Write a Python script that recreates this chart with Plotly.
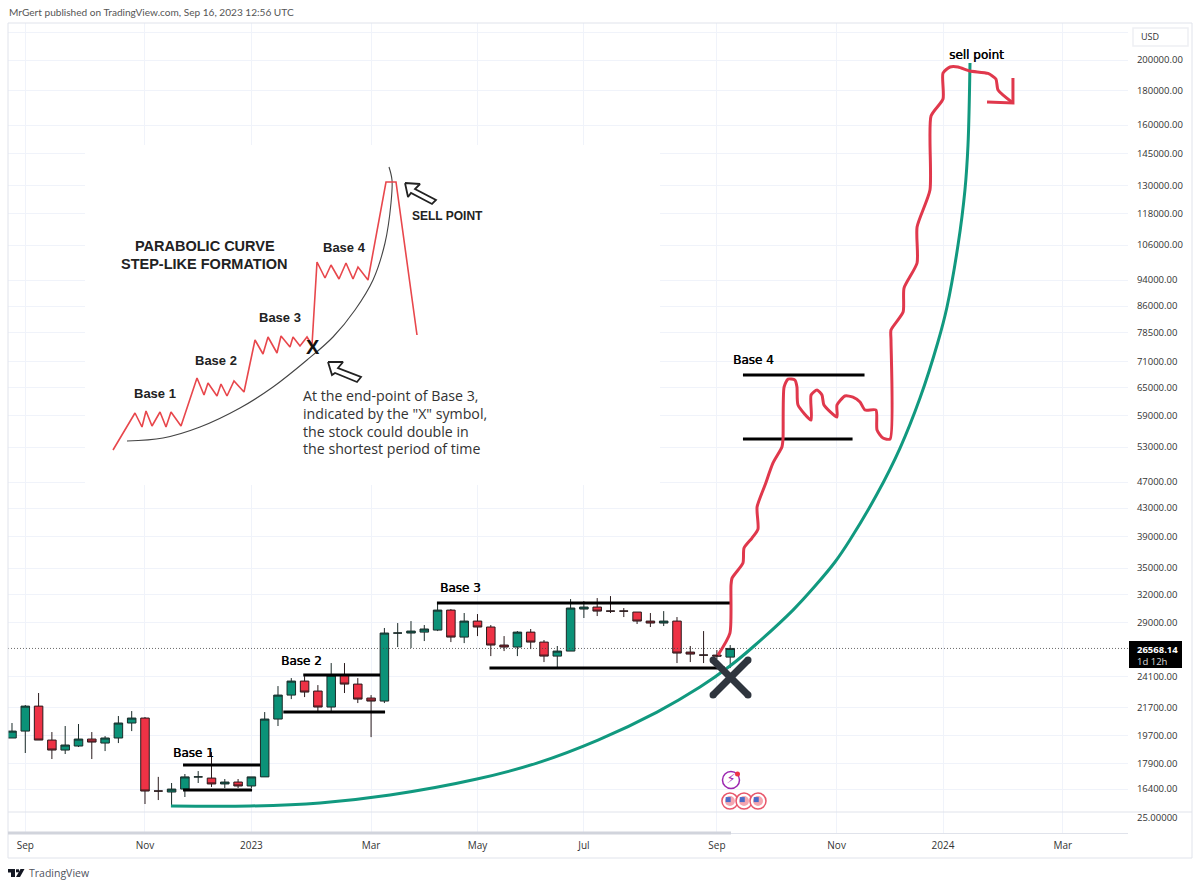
import pandas as pd
import plotly.graph_objects as go

# ---------- weekly candles (week number counted from the first bar) ----------
first_monday = "2022-08-22"
opens = [19540,20010,21800,19403,18749,19010,19470,19205,19540,20570,20925,16290,16235,16400,17100,17030,16690,16800,16575,17100,
         20853,22640,23755,22955,21730,24245,23510,22410,22180,28010,28010,28100,28297,30306,27625,29184,28595,26880,26695,28100,
         27155,25880,26330,30412,30622,30200,30200,30100,29184,28987,29184,26240,25970,25970,25790]
highs = [20570,21880,22800,19943,20360,20500,19943,19670,21070,21432,21000,17100,16745,17270,17446,18620,16975,16975,17100,21360,
         23350,24000,24160,23430,25270,25270,24000,22640,28500,28987,29184,28790,31046,30412,30000,29896,28790,27720,28200,28400,
         27343,26790,31472,31258,31580,31796,30518,30100,30000,30200,29590,26790,28200,26421,26880]
lows = [19540,18560,19403,18180,18495,18945,18180,18685,19205,20010,15580,15794,15475,15960,16745,16520,16460,16460,16460,17100,
        20360,22330,22485,21432,21432,22800,22030,19600,22030,26695,26600,27250,28200,27155,27060,27720,25880,26330,25880,26510,
        25355,24840,26330,29490,29690,30000,29590,28890,28595,28690,25270,25355,25270,25620,24840]
closes = [20010,21800,19403,18749,19075,19470,19270,19540,20570,20925,16290,16290,16400,17100,17100,16690,16800,16575,17100,20853,
          22640,23755,22875,21730,24245,23510,22330,22180,28010,28010,28200,28400,30306,27625,29184,28595,26880,26695,28100,27155,
          25880,26330,30518,30622,30200,30200,30200,29184,28987,29184,26150,26060,25970,25880,26568]
last_price = 26568

# ---------- axes ----------
tick_weeks = [1,10,18,27,35,43,53,62,70,79]
tick_labels = ["Sep","Nov","2023","Mar","May","Jul","Sep","Nov","2024","Mar"]
price_ticks = [220000,200000,180000,160000,145000,130000,118000,106000,94000,86000,78500,71000,65000,59000,53000,47000,
               43000,39000,35000,32000,29000,24100,21700,19700,17900,16400]
price_tick_text = [""] + [f"{p:.2f}" for p in price_ticks[1:]]
week_range = [-0.30, 83.91]
log_price_range = [4.1494, 5.3562]

# ---------- hand-drawn pieces on the chart ----------
base_labels = ["Base 1","Base 2","Base 3","Base 4"]
base_top_weeks = [[12.86,18.65],[21.9,27.67],[31.95,54.1],[54.96,64.1]]
base_top_price = [17810,24245,31046,67880]
base_bot_weeks = [[12.86,18.05],[20.4,28.05],[35.9,53.6],[54.96,63.2]]
base_bot_price = [16345,21360,24840,54500]

curve_weeks = [11.95,17.9,23.16,28.42,34.96,39.47,44.06,48.5,51.73,53.98,55.71,58.72,60.38,61.88,63.0,65.04,66.77,68.27,69.62,70.3,71.13,71.65,71.88,72.03]
curve_price = [15475,15475,15640,16070,16975,17930,19403,21360,23270,25010,26700,30306,32910,35740,38540,45120,52840,62720,76020,85720,106020,128040,149420,197950]

path_weeks = [53.08,53.98,54.06,54.14,54.96,55.04,55.64,56.09,56.02,56.62,57.22,57.89,57.97,58.05,58.35,58.87,59.02,59.1,60.08,60.08,60.53,60.9,61.05,
              62.03,62.03,62.63,63.23,63.76,64.14,64.96,65.04,65.49,66.02,66.09,66.09,67.0,67.07,68.05,68.05,69.02,69.1,70.0,70.0,70.53,71.13,72.03,73.38,73.98,74.14,75.26]
path_price = [25970,28010,33000,33820,35610,37500,38800,40020,43160,46540,50200,53020,54500,65140,66940,66710,65140,61240,58160,63380,64460,63380,61240,
              58770,61240,63160,62940,61880,60200,60200,56200,54680,54500,76540,79220,84260,91480,99680,112780,128040,165040,174960,191280,195260,195260,192600,191000,187380,180440,172580]
arrow_weeks = [75.26,75.26,73.31]
arrow_price = [188020,172580,173160]

x_mark_weeks = [52.71,55.34]
x_mark_price = [25530,22640]
flag_weeks = [53.98,55.04,56.09]
flag_price = 15740

# ---------- inset sketch ----------
inset_red_x = [113,135,142,146,152,160,166,171,181,197,204,208,217,221,227,234,244,255,263,268,277,281,290,293,300,307,312,317,325,331,339,346,353,358,368,386,396,417]
inset_red_y = [450,413,427,411,426,412,427,412,426,378,395,383,396,384,396,381,392,340,354,337,353,336,347,337,346,337,345,262,278,265,279,263,279,267,280,182,182,335]
inset_curve_x = [127,163,200,240,273,307,333,355,373,385,391,392,389]
inset_curve_y = [441,438,427,408,387,360,337,310,280,243,203,180,167]
arrow1_x = [405,420,415,436,432,411,408,405]
arrow1_y = [183,184,189,200,204,193,197,183]
arrow2_x = [328,343,338,361,357,335,332,328]
arrow2_y = [362,362,368,377,382,373,375,362]
inset_box_weeks = [5.49,48.72]
inset_box_price = [46540,149420]

GREEN, RED, TEAL, DRAW_RED = "#0b9278", "#ee3245", "#11997f", "#e0384c"
GRID, BORDER, TXT = "#f0f3fa", "#e0e3eb", "#333333"


def wk(w):
    return pd.Timestamp(first_monday) + pd.to_timedelta(float(w) * 7, unit="D")


def wks(seq):
    return [wk(w) for w in seq]


# pixel helpers for page furniture only
def ax(px):
    return (px - 8) / 1120


def ay(py):
    return (833 - py) / 810


fig = go.Figure()

# white sheet under the inset sketch (hides the grid)
fig.add_trace(go.Scatter(
    x=wks([inset_box_weeks[0], inset_box_weeks[1], inset_box_weeks[1], inset_box_weeks[0], inset_box_weeks[0]]),
    y=[inset_box_price[0], inset_box_price[0], inset_box_price[1], inset_box_price[1], inset_box_price[0]],
    mode="lines", fill="toself", fillcolor="white", line=dict(width=0), hoverinfo="skip"))

fig.add_trace(go.Scatter(x=wks(week_range), y=[last_price, last_price], mode="lines",
                         line=dict(color="#444444", width=0.8, dash="1px,2px"), hoverinfo="skip"))

fig.add_trace(go.Candlestick(
    x=wks(range(len(opens))), open=opens, high=highs, low=lows, close=closes, whiskerwidth=0,
    increasing=dict(fillcolor=GREEN, line=dict(color="#1a2a28", width=1)),
    decreasing=dict(fillcolor=RED, line=dict(color="#2a1a1c", width=1))))

for w, p in zip(base_top_weeks + base_bot_weeks, base_top_price + base_bot_price):
    fig.add_trace(go.Scatter(x=wks(w), y=[p, p], mode="lines", line=dict(color="black", width=3), hoverinfo="skip"))

fig.add_trace(go.Scatter(x=wks(curve_weeks), y=curve_price, mode="lines",
                         line=dict(color=TEAL, width=3, shape="spline", smoothing=1.0), hoverinfo="skip"))
fig.add_trace(go.Scatter(x=wks(path_weeks), y=path_price, mode="lines",
                         line=dict(color=DRAW_RED, width=3, shape="spline", smoothing=0.6), hoverinfo="skip"))
fig.add_trace(go.Scatter(x=wks(arrow_weeks), y=arrow_price, mode="lines",
                         line=dict(color=DRAW_RED, width=3), hoverinfo="skip"))

# big X
for py in (x_mark_price, x_mark_price[::-1]):
    fig.add_trace(go.Scatter(x=wks(x_mark_weeks), y=py, mode="lines+markers",
                             line=dict(color="#2f353e", width=7), marker=dict(color="#2f353e", size=7),
                             hoverinfo="skip"))

# event icons
fig.add_trace(go.Scatter(x=[wk(54.06)], y=[16916], mode="markers+text", text=["⚡"], textposition="middle center",
                         textfont=dict(color="#9c27b0", size=13, family="DejaVu Sans"),
                         marker=dict(color="white", size=17, line=dict(color="#9c27b0", width=1.5)), hoverinfo="skip"))
fig.add_trace(go.Scatter(x=[wk(54.55)], y=[17270], mode="markers",
                         marker=dict(color="#ee3245", size=5), hoverinfo="skip"))
fig.add_trace(go.Scatter(x=wks(flag_weeks), y=[flag_price] * 3, mode="markers",
                         marker=dict(color="white", size=16, line=dict(color="#e8566a", width=1.5)), hoverinfo="skip"))
fig.add_trace(go.Scatter(x=wks(flag_weeks), y=[flag_price] * 3, mode="markers",
                         marker=dict(color="#f4a6b0", size=10), hoverinfo="skip"))
fig.add_trace(go.Scatter(x=wks([w - 0.13 for w in flag_weeks]), y=[flag_price * 1.005] * 3, mode="markers",
                         marker=dict(color="#4a6bc8", size=5, symbol="square"), hoverinfo="skip"))

# inset
ink = dict(xaxis="x2", yaxis="y2", hoverinfo="skip")
fig.add_trace(go.Scatter(x=inset_curve_x, y=inset_curve_y, mode="lines",
                         line=dict(color="#444444", width=1.1, shape="spline"), **ink))
fig.add_trace(go.Scatter(x=inset_red_x, y=inset_red_y, mode="lines",
                         line=dict(color="#e8474c", width=1.6), **ink))
for xs, ys in ((arrow1_x, arrow1_y), (arrow2_x, arrow2_y)):
    fig.add_trace(go.Scatter(x=xs, y=ys, mode="lines", fill="toself", fillcolor="white",
                             line=dict(color="#222222", width=1.8), **ink))

fig.update_layout(
    width=1200, height=888, autosize=False, showlegend=False,
    paper_bgcolor="white", plot_bgcolor="white",
    margin=dict(l=8, r=72, t=23, b=55),
    hovermode=False, boxgap=0.36, boxgroupgap=0,
    xaxis=dict(type="date", range=wks(week_range), rangeslider=dict(visible=False),
               tickmode="array", tickvals=wks(tick_weeks), ticktext=tick_labels,
               showgrid=True, gridcolor=GRID, gridwidth=1, zeroline=False,
               showline=True, linecolor=BORDER, linewidth=1,
               ticks="outside", ticklen=3, tickcolor="white",
               tickfont=dict(family="Open Sans", size=10, color=TXT)),
    yaxis=dict(type="log", range=log_price_range, side="right",
               tickmode="array", tickvals=price_ticks, ticktext=price_tick_text,
               showgrid=True, gridcolor=GRID, gridwidth=1, zeroline=False, showline=False,
               ticks="outside", ticklen=6, tickcolor="white",
               tickfont=dict(family="Open Sans", size=9.5, color=TXT)),
    xaxis2=dict(domain=[ax(85), ax(660)], range=[85, 660], visible=False, anchor="y2"),
    yaxis2=dict(domain=[ay(485), ay(145)], range=[485, 145], visible=False, anchor="x2"),
)

shapes = [
    dict(type="rect", xref="paper", yref="paper", x0=ax(8), x1=ax(1192), y0=ay(858), y1=ay(23),
         line=dict(color=BORDER, width=1)),
    dict(type="line", xref="paper", yref="paper", x0=ax(8), x1=ax(1192), y0=ay(812), y1=ay(812),
         line=dict(color=BORDER, width=1)),
    dict(type="line", xref="paper", yref="paper", x0=ax(8), x1=ax(731), y0=ay(833), y1=ay(833),
         line=dict(color="#d1d4dc", width=3)),
    dict(type="rect", xref="paper", yref="paper", x0=ax(1133), x1=ax(1188), y0=ay(46), y1=ay(28),
         line=dict(color="#eef0f4", width=1.5), fillcolor="white"),
    dict(type="rect", xref="paper", yref="paper", x0=ax(1129), x1=ax(1182), y0=ay(668), y1=ay(641),
         line=dict(width=0), fillcolor="black"),
]
# TradingView mark
logo = [[(8, 869), (15, 869), (15, 877), (11, 877), (11, 872.5), (8, 872.5)],
        [(24.5, 869), (20, 877), (16, 877), (20.5, 869)],
        [(16, 869.3), (19, 869.3), (19, 872.3), (16, 872.3)]]
for poly in logo:
    d = "M" + " L".join(f"{ax(a):.5f},{ay(b):.5f}" for a, b in poly) + " Z"
    shapes.append(dict(type="path", xref="paper", yref="paper", path=d, fillcolor="#131722", line=dict(width=0)))
fig.update_layout(shapes=shapes)


def note(text, px, py, size=12, color="black", family="DejaVu Sans", anchor="center", shadow=None):
    font = dict(size=size, color=color, family=family)
    if shadow:
        font["shadow"] = shadow
    fig.add_annotation(text=text, x=ax(px), y=ay(py), xref="paper", yref="paper", showarrow=False,
                       xanchor=anchor, yanchor="middle", font=font, borderpad=0)


note("MrGert published on TradingView.com, Sep 16, 2023 12:56 UTC", 8, 12, 10.1, "#555555", "Lato", "left")
note("TradingView", 28, 873, 10.5, "#50535e", "Open Sans", "left")
note("USD", 1140, 37, 9, TXT, "Open Sans", "left")
note("25.00000", 1136, 817, 9.5, TXT, "Open Sans", "left")
note("<b>26568.14</b>", 1136, 649, 9.5, "white", "Open Sans", "left")
note("1d 12h", 1136, 661, 9.5, "#dddddd", "Open Sans", "left")

HEAVY = "0.4px 0 0 black"
note(base_labels[0], 193, 753, shadow=HEAVY)
note(base_labels[1], 301, 661, shadow=HEAVY)
note(base_labels[2], 460, 588, shadow=HEAVY)
note(base_labels[3], 753, 360, shadow=HEAVY)
note("sell point", 976, 55, shadow=HEAVY)

SK = "Liberation Sans"
note("<b>Base 1</b>", 155, 393, 13, "#222222", SK)
note("<b>Base 2</b>", 216, 360, 13, "#222222", SK)
note("<b>Base 3</b>", 280, 318, 13, "#222222", SK)
note("<b>Base 4</b>", 344, 247, 13, "#222222", SK)
note("<b>PARABOLIC CURVE</b>", 205, 246, 14.5, "#222222", SK)
note("<b>STEP-LIKE FORMATION</b>", 204, 264, 14.5, "#222222", SK)
note("<b>SELL POINT</b>", 447, 216, 12, "#222222", SK)
note("<b>X</b>", 313, 347, 20, "#111111", SK)
for line, py in zip(["At the end-point of Base 3,", 'indicated by the "X" symbol,',
                     "the stock could double in", "the shortest period of time"], [395, 413, 431, 448]):
    note(line, 302, py, 14.2, "#333333", "Open Sans", "left")

fig.write_html("out.html", config=dict(displayModeBar=False),
               post_script="document.body.style.margin='0';document.body.style.overflow='hidden';")
